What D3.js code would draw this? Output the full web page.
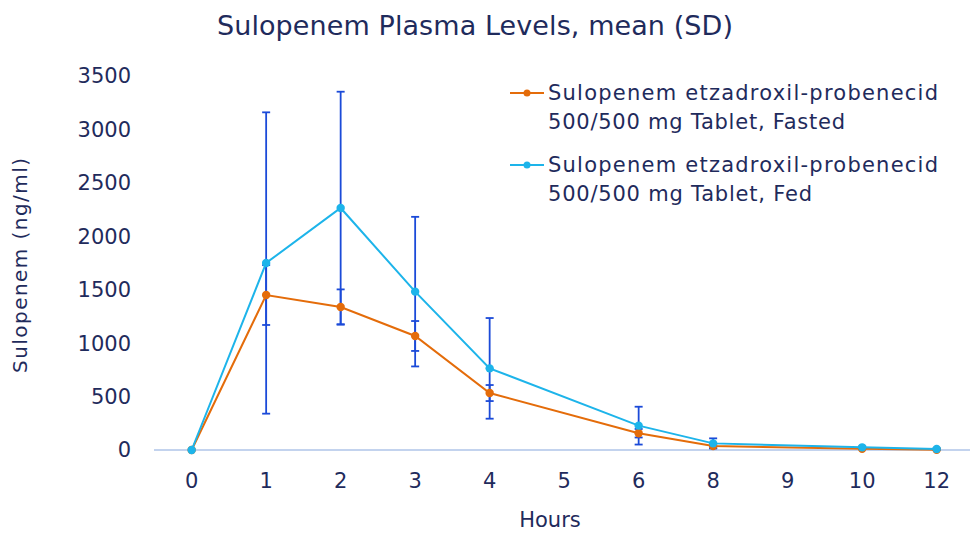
<!DOCTYPE html>
<html><head><meta charset="utf-8">
<script src="https://cdn.jsdelivr.net/npm/d3@7"></script>
<style>body{margin:0;background:#fff}svg{display:block}text{font-family:"DejaVu Sans",sans-serif;fill:#1f2b5c}</style>
</head><body><svg id="c" width="970" height="533"></svg>
<script>
const categories = ["0","1","2","3","4","5","6","8","9","10","12"];
const fastedMean = [0,1450,1338,1067,533,null,157,37,null,12,3];
const fastedSD   = [0,280,165,140,75,null,40,20,null,5,3];
const fedMean    = [0,1750,2265,1482,764,null,228,62,null,25,10];
const fedSD      = [0,1410,1088,700,471,null,177,47,null,8,5];
const yTicks = [0,500,1000,1500,2000,2500,3000,3500];
const seriesNames = [["Sulopenem etzadroxil-probenecid","500/500 mg Tablet, Fasted"],["Sulopenem etzadroxil-probenecid","500/500 mg Tablet, Fed"]];
const colors = ["#e46c0a","#1db4ea"];
const errColor = "#1b4ad8";

const svg = d3.select("#c");
const x = d3.scaleBand().domain(categories).range([154.4,973.9]).padding(0);
const y = d3.scaleLinear().domain([0,3500]).range([450,76]);
const cx = d => x(d) + x.bandwidth()/2;

svg.append("text").attr("x",475).attr("y",35).attr("text-anchor","middle").style("font-size","27px")
  .attr("textLength",516).attr("lengthAdjust","spacing").text("Sulopenem Plasma Levels, mean (SD)");

// axis line
svg.append("line").attr("x1",154).attr("x2",970).attr("y1",y(0)).attr("y2",y(0)).attr("stroke","#c3d3ee").attr("stroke-width",2);

// y tick labels
const ya = svg.append("g").attr("transform","translate(131,0)").call(d3.axisLeft(y).tickValues(yTicks).tickFormat(d3.format("d")).tickSize(0).tickPadding(0));
ya.select(".domain").remove();
ya.selectAll("text").style("font-size","21px").attr("fill","#1f2b5c").style("font-family","DejaVu Sans").attr("dy","0.33em");

const xa = svg.append("g").attr("transform","translate(0,487.5)").call(d3.axisBottom(x).tickSize(0).tickPadding(0));
xa.select(".domain").remove();
xa.selectAll("text").style("font-size","21px").attr("fill","#1f2b5c").style("font-family","DejaVu Sans").attr("y",0).attr("dy","0");

svg.append("text").attr("transform","translate(27,265.5) rotate(-90)").attr("text-anchor","middle").style("font-size","20px")
  .attr("textLength",215).attr("lengthAdjust","spacing").text("Sulopenem (ng/ml)");
svg.append("text").attr("x",550).attr("y",527).attr("text-anchor","middle").style("font-size","21px").text("Hours");

const series = [{m:fastedMean,s:fastedSD},{m:fedMean,s:fedSD}];
// error bars
series.forEach(sr=>{
  categories.forEach((c,i)=>{
    if(sr.m[i]==null || !sr.s[i]) return;
    const hi = sr.m[i]+sr.s[i], lo = Math.max(0,sr.m[i]-sr.s[i]);
    const g = svg.append("g").attr("stroke",errColor).attr("stroke-width",1.8);
    g.append("line").attr("x1",cx(c)).attr("x2",cx(c)).attr("y1",y(hi)).attr("y2",y(lo));
    g.append("line").attr("x1",cx(c)-4).attr("x2",cx(c)+4).attr("y1",y(hi)).attr("y2",y(hi));
    g.append("line").attr("x1",cx(c)-4).attr("x2",cx(c)+4).attr("y1",y(lo)).attr("y2",y(lo));
  });
});
// lines
series.forEach((sr,k)=>{
  const pts = categories.map((c,i)=>({c,v:sr.m[i]})).filter(d=>d.v!=null);
  svg.append("path").datum(pts).attr("fill","none").attr("stroke",colors[k]).attr("stroke-width",2)
    .attr("d",d3.line().x(d=>cx(d.c)).y(d=>y(d.v)));
  svg.selectAll(null).data(pts).enter().append("circle").attr("cx",d=>cx(d.c)).attr("cy",d=>y(d.v)).attr("r",4.2).attr("fill",colors[k]);
});
// legend
const legY = [93,165];
const legBase = [[100,129],[172,201]];
const legLen = [[390,297],[390,264]];
seriesNames.forEach((n,k)=>{
  const g = svg.append("g");
  g.append("line").attr("x1",510).attr("x2",544).attr("y1",legY[k]).attr("y2",legY[k]).attr("stroke",colors[k]).attr("stroke-width",2);
  g.append("circle").attr("cx",527).attr("cy",legY[k]).attr("r",3.5).attr("fill",colors[k]);
  n.forEach((t,j)=>{
    g.append("text").attr("x",548).attr("y",legBase[k][j]).style("font-size","21px")
      .attr("textLength",legLen[k][j]).attr("lengthAdjust","spacing").text(t);
  });
});
</script></body></html>
